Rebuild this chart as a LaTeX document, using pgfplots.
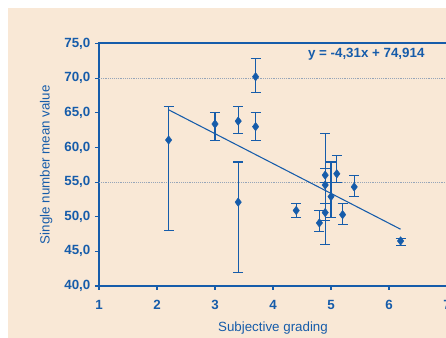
\documentclass[border=0pt]{standalone}
\usepackage{fontspec}
\setmainfont{Liberation Sans}
\usepackage{pgfplots}
\usepackage{pgfplotstable}
\pgfplotsset{compat=1.18}
\definecolor{bg}{RGB}{249,232,214}
\definecolor{cblue}{RGB}{22,92,170}
\definecolor{gridc}{RGB}{150,165,185}
\pgfplotstableread{
x y ep em
2.2 61.07 4.9 13.1
3.0 63.38 1.62 2.38
3.4 63.8 2.1 1.8
3.4 52.1 5.8 10.1
3.7 70.2 2.7 2.24
3.7 63.0 2.0 2.0
4.4 50.9 1.0 1.0
4.8 49.1 1.8 1.2
4.9 56.0 0.9 1.0
4.9 54.58 7.4 8.6
4.9 50.6 1.3 1.1
5.0 52.9 5.0 3.0
5.1 56.2 2.7 1.3
5.2 50.3 1.6 1.4
5.4 54.3 1.6 1.4
6.2 46.5 0.3 0.6
}\pts
\begin{document}
\begin{tikzpicture}
\fill[bg] (-68.25pt,-39pt) rectangle (260.25pt,208.5pt);
\begin{axis}[
  at={(0,0)}, anchor=south west,
  scale only axis, width=261pt, height=181.875pt,
  xmin=1, xmax=7, ymin=40, ymax=75,
  xtick={1,2,3,4,5,6,7},
  ytick={40,45,50,55,60,65,70,75},
  extra y ticks={55,70},
  extra y tick labels={},
  extra y tick style={grid=major, major tick length=0pt},
  grid style={densely dotted, gridc, line width=0.6pt},
  tick pos=left, tick align=outside,
  major tick length=3pt,
  axis line style={cblue, line width=1.5pt},
  every tick/.style={cblue, line width=0.8pt},
  /pgf/number format/assume math mode=true,
  yticklabel style={/pgf/number format/.cd, fixed, fixed zerofill, precision=1, use comma},
  xticklabel style={yshift=-4pt, /pgf/number format/.cd, fixed, precision=0},
  tick label style={font=\fontsize{10}{12}\selectfont\bfseries, text=cblue},
  every axis y label/.style={at={(axis description cs:-0.152,0.5)}, rotate=90, anchor=center, font=\fontsize{10}{12}\selectfont, text=cblue},
  every axis x label/.style={at={(axis description cs:0.5,-0.175)}, anchor=center, font=\fontsize{10}{12}\selectfont, text=cblue},
  xlabel={Subjective grading},
  ylabel={Single number mean value},
  clip=false,
]
\addplot[cblue, line width=0.8pt, only marks, mark=diamond*, mark size=3.2pt,
  mark options={fill=cblue, draw=cblue, line width=0.3pt},
  error bars/.cd, y dir=both, y explicit,
  error bar style={cblue, line width=0.8pt},
  error mark options={cblue, line width=0.8pt, mark size=3.75pt, rotate=90}]
  table[x=x, y=y, y error plus=ep, y error minus=em] {\pts};
\addplot[cblue, line width=0.8pt, no marks] coordinates {(2.2,65.432) (6.2,48.192)};
\node[anchor=west, text=cblue, font=\fontsize{10}{12}\selectfont\bfseries, inner sep=0pt] at (axis cs:4.6,73.4) {y = -4,31x + 74,914};
\end{axis}
\pgfresetboundingbox
\path[use as bounding box] (-74.25pt,-39pt) rectangle (260.25pt,214.5pt);
\end{tikzpicture}
\end{document}
